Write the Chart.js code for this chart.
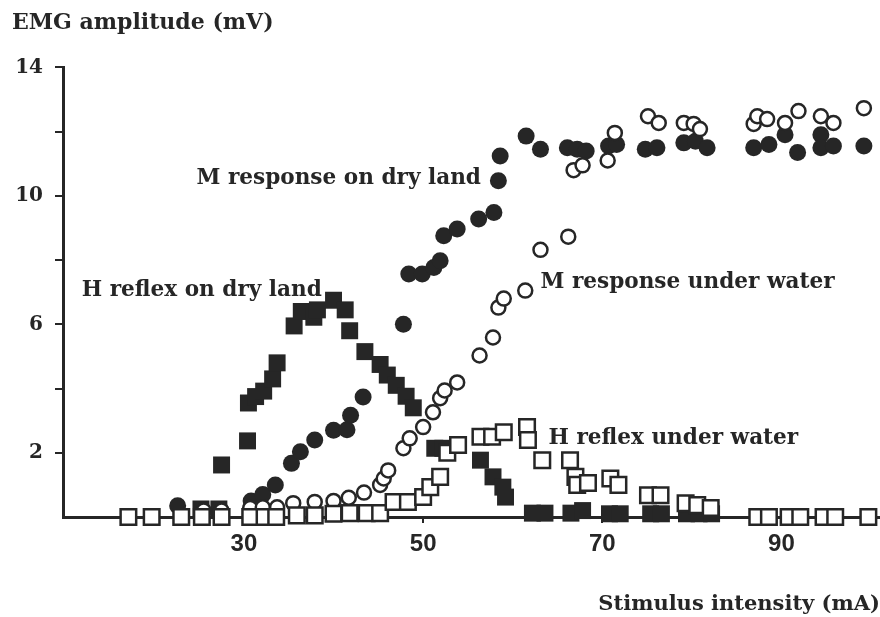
<!DOCTYPE html>
<html>
<head>
<meta charset="utf-8">
<title>EMG amplitude vs stimulus intensity</title>
<script src="https://cdn.jsdelivr.net/npm/chart.js@4"></script>
<style>
  html, body { margin: 0; padding: 0; background: #fff; overflow: hidden; }
  canvas { display: block; }
</style>
</head>
<body>
<canvas id="emgChart" width="880" height="617"></canvas>
<script>
// H reflex on dry land (filled squares)
const hDryX = [25.2, 27.2, 27.5, 30.4, 30.5, 31.3, 32.2, 33.2, 33.7, 35.6, 36.4, 37.8, 38.2, 40.0, 41.3, 41.8,
  43.5, 45.2, 46.0, 47.0, 48.1, 48.9, 51.3, 52.2, 56.4, 57.8, 58.9, 59.2, 62.2, 63.6, 66.5, 67.8,
  70.8, 72.0, 75.4, 76.6, 79.4, 80.8, 82.2];
const hDryY = [0.25, 0.25, 1.62, 2.37, 3.55, 3.75, 3.92, 4.3, 4.8, 5.95, 6.4, 6.22, 6.45, 6.75, 6.45, 5.8,
  5.15, 4.75, 4.42, 4.1, 3.76, 3.4, 2.14, 2.14, 1.77, 1.25, 0.93, 0.62, 0.12, 0.12, 0.12, 0.2,
  0.1, 0.1, 0.1, 0.1, 0.1, 0.1, 0.1];

// M response on dry land (filled circles)
const mDryX = [22.6, 30.8, 32.1, 33.5, 35.3, 36.3, 37.9, 40.0, 41.5, 41.9, 43.3, 47.8, 48.4, 49.9, 51.2, 51.9,
  52.3, 53.8, 56.2, 57.9, 58.4, 58.6, 61.5, 63.1, 66.1, 67.2, 68.2, 70.7, 71.6, 74.8, 76.1, 79.1,
  80.4, 81.7, 86.9, 88.6, 90.4, 91.8, 94.4, 94.4, 95.8, 99.2];
const mDryY = [0.35, 0.5, 0.7, 1.0, 1.67, 2.03, 2.4, 2.7, 2.72, 3.17, 3.74, 6.0, 7.57, 7.57, 7.77, 7.98,
  8.76, 8.97, 9.28, 9.48, 10.47, 11.24, 11.86, 11.45, 11.5, 11.45, 11.4, 11.55, 11.6, 11.45, 11.5, 11.65,
  11.7, 11.5, 11.5, 11.6, 11.9, 11.35, 11.9, 11.5, 11.55, 11.55];

// M response under water (open circles)
const mWaterX = [25.5, 27.5, 30.7, 32.1, 33.7, 35.5, 37.9, 40.0, 41.7, 43.4, 45.2, 45.6, 46.1, 47.8, 48.5, 50.0,
  51.1, 51.9, 52.4, 53.8, 56.3, 57.8, 58.4, 59.0, 61.4, 63.1, 66.2, 66.8, 67.8, 70.6, 71.4, 75.1,
  76.3, 79.1, 80.2, 80.9, 86.9, 87.3, 88.4, 90.4, 91.9, 94.4, 95.8, 99.2];
const mWaterY = [0.2, 0.2, 0.28, 0.3, 0.3, 0.43, 0.47, 0.5, 0.6, 0.76, 1.0, 1.2, 1.45, 2.14, 2.45, 2.8,
  3.26, 3.7, 3.94, 4.19, 5.03, 5.59, 6.52, 6.8, 7.05, 8.32, 8.73, 10.8, 10.95, 11.1, 11.96, 12.48,
  12.27, 12.27, 12.24, 12.08, 12.24, 12.48, 12.39, 12.27, 12.64, 12.48, 12.27, 12.73];

// H reflex under water (open squares)
const hWaterX = [17.1, 19.7, 23.0, 25.3, 27.5, 30.7, 32.3, 33.6, 35.9, 37.9, 40.0, 41.8, 43.7, 45.2, 46.7, 48.3,
  50.0, 50.8, 51.9, 52.7, 53.9, 56.4, 57.7, 59.0, 61.6, 61.7, 63.3, 66.4, 67.0, 67.2, 68.4, 70.9,
  71.8, 75.1, 76.5, 79.3, 80.6, 82.1, 87.3, 88.6, 90.8, 92.1, 94.7, 96.0, 99.7];
const hWaterY = [0, 0, 0, 0, 0, 0, 0, 0, 0.05, 0.05, 0.1, 0.12, 0.12, 0.12, 0.47, 0.47,
  0.62, 0.93, 1.25, 2.0, 2.24, 2.5, 2.5, 2.64, 2.8, 2.4, 1.77, 1.77, 1.25, 1.0, 1.06, 1.2,
  1.0, 0.68, 0.68, 0.43, 0.37, 0.28, 0, 0, 0, 0, 0, 0, 0];

const xTickValues = [30, 50, 70, 90];
const yTickValues = [2, 4, 6, 8, 10, 12, 14];
const yTickLabels = [2, 6, 10, 14];

const labelTexts = ["M response on dry land", "H reflex on dry land", "M response under water", "H reflex under water"];
const labelX = [24.7, 11.9, 63.1, 64.0];
const labelY = [10.53, 7.05, 7.3, 2.45];

const ink = "#262626";
const serif = "'DejaVu Serif', serif";

function toPoints(xs, ys) {
  return xs.map((x, i) => ({ x: x, y: ys[i] }));
}

// draws the curve names next to the marks, placed with the chart's scales
const curveLabels = {
  id: "curveLabels",
  afterDatasetsDraw(chart) {
    const ctx = chart.ctx;
    const xs = chart.scales.x;
    const ys = chart.scales.y;
    ctx.save();
    ctx.fillStyle = ink;
    ctx.font = "bold 21.6px " + serif;
    ctx.textAlign = "left";
    ctx.textBaseline = "middle";
    labelTexts.forEach((t, i) => {
      ctx.fillText(t, xs.getPixelForValue(labelX[i]), ys.getPixelForValue(labelY[i]));
    });
    ctx.restore();
  }
};

const ctx = document.getElementById("emgChart").getContext("2d");
new Chart(ctx, {
  type: "scatter",
  data: {
    datasets: [
      {
        label: "H reflex under water",
        data: toPoints(hWaterX, hWaterY),
        pointStyle: "rect",
        pointRadius: 11,
        backgroundColor: "#fff",
        borderColor: ink,
        borderWidth: 2.5
      },
      {
        label: "M response under water",
        data: toPoints(mWaterX, mWaterY),
        pointStyle: "circle",
        pointRadius: 7,
        backgroundColor: "#fff",
        borderColor: ink,
        borderWidth: 2.5
      },
      {
        label: "H reflex on dry land",
        data: toPoints(hDryX, hDryY),
        pointStyle: "rect",
        pointRadius: 12,
        backgroundColor: ink,
        borderColor: ink,
        borderWidth: 0
      },
      {
        label: "M response on dry land",
        data: toPoints(mDryX, mDryY),
        pointStyle: "circle",
        pointRadius: 8.5,
        backgroundColor: ink,
        borderColor: ink,
        borderWidth: 0
      }
    ]
  },
  options: {
    responsive: false,
    animation: false,
    clip: false,
    layout: { autoPadding: false, padding: { left: 12, right: 0, top: 0, bottom: 0 } },
    plugins: {
      legend: { display: false },
      tooltip: { enabled: false },
      title: {
        display: true,
        text: "EMG amplitude (mV)",
        align: "start",
        color: ink,
        font: { family: serif, size: 22, weight: "bold" },
        padding: { top: 10, bottom: 31 }
      }
    },
    scales: {
      x: {
        type: "linear",
        min: 9.8,
        max: 101,
        afterBuildTicks: s => { s.ticks = xTickValues.map(v => ({ value: v })); },
        ticks: {
          color: ink,
          padding: 7,
          font: { family: "'Liberation Sans', sans-serif", size: 24, weight: "bold" }
        },
        grid: { drawOnChartArea: false, drawTicks: true, tickLength: 6, color: ink, lineWidth: 2 },
        border: { color: ink, width: 3 },
        title: {
          display: true,
          text: "Stimulus intensity (mA)",
          align: "end",
          color: ink,
          font: { family: serif, size: 21, weight: "bold" },
          padding: { top: 0, bottom: 0 }
        },
        afterFit: s => { s.height = 100; }
      },
      y: {
        min: 0,
        max: 14,
        afterBuildTicks: s => { s.ticks = yTickValues.map(v => ({ value: v })); },
        ticks: {
          color: ink,
          padding: 12,
          font: { family: serif, size: 20, weight: "bold" },
          callback: v => yTickLabels.includes(v) ? String(v) : ""
        },
        grid: { drawOnChartArea: false, drawTicks: true, tickLength: 8, color: ink, lineWidth: 2 },
        border: { color: ink, width: 3 },
        afterFit: s => { s.width = 51; }
      }
    }
  },
  plugins: [curveLabels]
});
</script>
</body>
</html>
